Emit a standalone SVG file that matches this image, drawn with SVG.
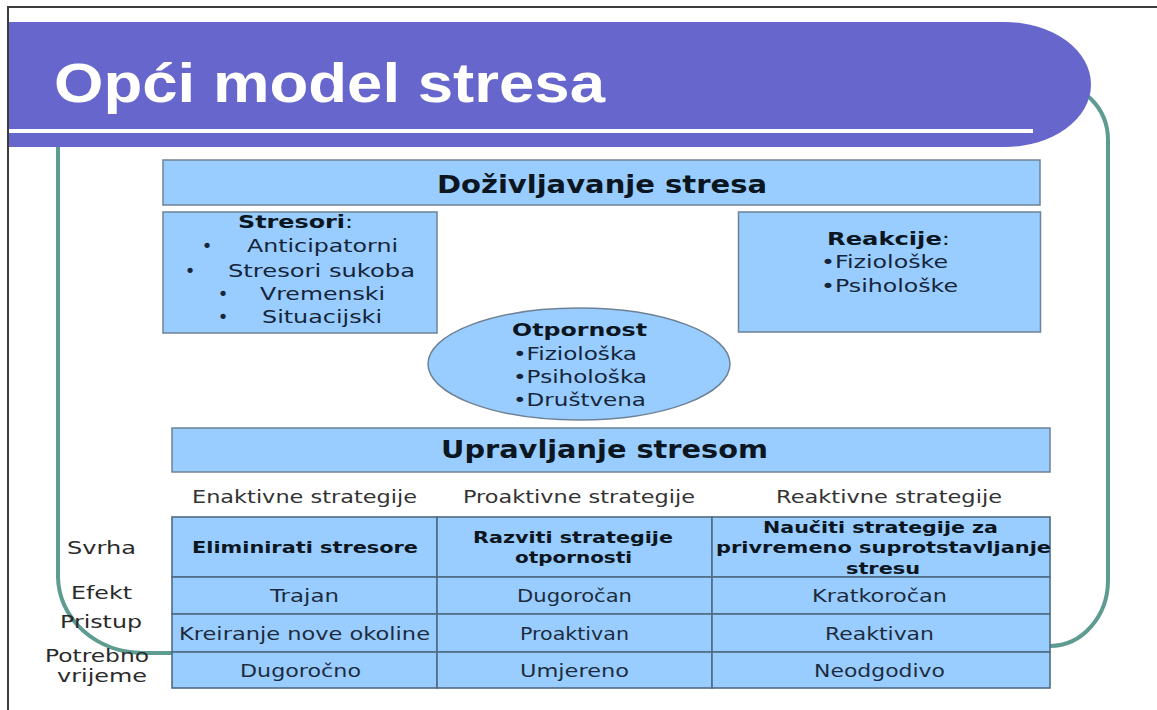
<svg xmlns="http://www.w3.org/2000/svg" width="1157" height="710" viewBox="0 0 1157 710">
<style>
.box{fill:#99CCFF;stroke:#6E8295;stroke-width:1.5}
.cell{fill:#99CCFF;stroke:#4F6B85;stroke-width:1.6}
.hd{font-family:"DejaVu Sans",Verdana,sans-serif;font-weight:bold;font-size:24px;fill:#0b1620}
.b{font-family:"DejaVu Sans",Verdana,sans-serif;font-weight:bold;font-size:18px;fill:#0b1620}
.t{font-family:"DejaVu Sans",Verdana,sans-serif;font-size:18px;fill:#15253a}
.s{font-family:"DejaVu Sans",Verdana,sans-serif;font-size:17px;fill:#333}
.tb{font-family:"DejaVu Sans",Verdana,sans-serif;font-weight:bold;font-size:16px;fill:#0b1620}
.tc{font-family:"DejaVu Sans",Verdana,sans-serif;font-size:17px;fill:#1c2c3e}
.lb{font-family:"DejaVu Sans",Verdana,sans-serif;font-size:17px;fill:#2a2a2a}
.n{font-weight:normal}
</style>
<rect x="0" y="0" width="1157" height="710" fill="#ffffff"/>
<g id="slide-frame" fill="none" stroke="#3c3c3c" stroke-width="2">
<path d="M8,710 V7 H1157"/>
</g>
<g id="frame-line" fill="none" stroke="#5E9C92" stroke-width="4">
<path d="M58,100 V577 A85 77 0 0 0 143,653 H172"/>
<path d="M1050,646 A58 66 0 0 0 1108,580 V140 A58 58 0 0 0 1050,82"/>
</g>
<g id="title-bar">
<path d="M9,22 H1005 A86 62.5 0 0 1 1005,147 H9 Z" fill="#6666CC"/>
<rect x="9" y="129" width="1024" height="4" fill="#ffffff"/>
<text x="54" y="102" font-family="'Liberation Sans',Arial,sans-serif" font-weight="bold" font-size="55" fill="#ffffff" textLength="551" lengthAdjust="spacingAndGlyphs">Opći model stresa</text>
</g>
<g id="dozivljavanje">
<rect class="box" x="163" y="160" width="877" height="45"/>
<text class="hd" x="437" y="193" textLength="330" lengthAdjust="spacingAndGlyphs">Doživljavanje stresa</text>
</g>
<g id="stresori">
<rect class="box" x="163" y="212" width="274" height="121"/>
<text class="b" x="238" y="228" textLength="115" lengthAdjust="spacingAndGlyphs">Stresori<tspan class="n">:</tspan></text>
<text class="t" x="207" y="252" text-anchor="middle">•</text>
<text class="t" x="247" y="252" textLength="151" lengthAdjust="spacingAndGlyphs">Anticipatorni</text>
<text class="t" x="190" y="277" text-anchor="middle">•</text>
<text class="t" x="228" y="277" textLength="187" lengthAdjust="spacingAndGlyphs">Stresori sukoba</text>
<text class="t" x="223" y="300" text-anchor="middle">•</text>
<text class="t" x="260" y="300" textLength="125" lengthAdjust="spacingAndGlyphs">Vremenski</text>
<text class="t" x="223" y="323" text-anchor="middle">•</text>
<text class="t" x="262" y="323" textLength="120" lengthAdjust="spacingAndGlyphs">Situacijski</text>
</g>
<g id="reakcije">
<rect class="box" x="738.5" y="212" width="302" height="120"/>
<text class="b" x="827" y="245" textLength="123" lengthAdjust="spacingAndGlyphs">Reakcije<tspan class="n">:</tspan></text>
<text class="t" x="821" y="268" textLength="127" lengthAdjust="spacingAndGlyphs">•Fiziološke</text>
<text class="t" x="821" y="292" textLength="137" lengthAdjust="spacingAndGlyphs">•Psihološke</text>
</g>
<g id="otpornost">
<ellipse class="box" cx="579" cy="364" rx="151" ry="56"/>
<text class="b" x="512" y="336" textLength="135" lengthAdjust="spacingAndGlyphs">Otpornost</text>
<text class="t" x="513" y="360" textLength="124" lengthAdjust="spacingAndGlyphs">•Fiziološka</text>
<text class="t" x="513" y="383" textLength="134" lengthAdjust="spacingAndGlyphs">•Psihološka</text>
<text class="t" x="513" y="406" textLength="133" lengthAdjust="spacingAndGlyphs">•Društvena</text>
</g>
<g id="upravljanje">
<rect class="box" x="172" y="428" width="878" height="44"/>
<text class="hd" x="441" y="458" textLength="327" lengthAdjust="spacingAndGlyphs">Upravljanje stresom</text>
</g>
<g id="strategije">
<text class="s" x="192" y="503" textLength="225" lengthAdjust="spacingAndGlyphs">Enaktivne strategije</text>
<text class="s" x="463" y="503" textLength="232" lengthAdjust="spacingAndGlyphs">Proaktivne strategije</text>
<text class="s" x="776" y="503" textLength="226" lengthAdjust="spacingAndGlyphs">Reaktivne strategije</text>
</g>
<g id="row-labels">
<text class="lb" x="67" y="554" textLength="69" lengthAdjust="spacingAndGlyphs">Svrha</text>
<text class="lb" x="71" y="599" textLength="61" lengthAdjust="spacingAndGlyphs">Efekt</text>
<text class="lb" x="60" y="628" textLength="82" lengthAdjust="spacingAndGlyphs">Pristup</text>
<text class="lb" x="45" y="662" textLength="104" lengthAdjust="spacingAndGlyphs">Potrebno</text>
<text class="lb" x="57" y="682" textLength="90" lengthAdjust="spacingAndGlyphs">vrijeme</text>
</g>
<g id="tablica">
<rect class="cell" x="172" y="517" width="265" height="60"/>
<rect class="cell" x="437" y="517" width="275" height="60"/>
<rect class="cell" x="712" y="517" width="338" height="60"/>
<rect class="cell" x="172" y="577" width="265" height="37"/>
<rect class="cell" x="437" y="577" width="275" height="37"/>
<rect class="cell" x="712" y="577" width="338" height="37"/>
<rect class="cell" x="172" y="614" width="265" height="38"/>
<rect class="cell" x="437" y="614" width="275" height="38"/>
<rect class="cell" x="712" y="614" width="338" height="38"/>
<rect class="cell" x="172" y="652" width="265" height="36"/>
<rect class="cell" x="437" y="652" width="275" height="36"/>
<rect class="cell" x="712" y="652" width="338" height="36"/>
<text class="tb" x="192" y="553" textLength="226" lengthAdjust="spacingAndGlyphs">Eliminirati stresore</text>
<text class="tb" x="473" y="543" textLength="200" lengthAdjust="spacingAndGlyphs">Razviti strategije</text>
<text class="tb" x="515" y="563" textLength="117" lengthAdjust="spacingAndGlyphs">otpornosti</text>
<text class="tb" x="763" y="533" textLength="235" lengthAdjust="spacingAndGlyphs">Naučiti strategije za</text>
<text class="tb" x="716" y="553" textLength="335" lengthAdjust="spacingAndGlyphs">privremeno suprotstavljanje</text>
<text class="tb" x="846" y="574" textLength="74" lengthAdjust="spacingAndGlyphs">stresu</text>
<text class="tc" x="270" y="602" textLength="69" lengthAdjust="spacingAndGlyphs">Trajan</text>
<text class="tc" x="517" y="602" textLength="115" lengthAdjust="spacingAndGlyphs">Dugoročan</text>
<text class="tc" x="812" y="602" textLength="135" lengthAdjust="spacingAndGlyphs">Kratkoročan</text>
<text class="tc" x="179" y="640" textLength="251" lengthAdjust="spacingAndGlyphs">Kreiranje nove okoline</text>
<text class="tc" x="520" y="640" textLength="109" lengthAdjust="spacingAndGlyphs">Proaktivan</text>
<text class="tc" x="825" y="640" textLength="109" lengthAdjust="spacingAndGlyphs">Reaktivan</text>
<text class="tc" x="240" y="677" textLength="121" lengthAdjust="spacingAndGlyphs">Dugoročno</text>
<text class="tc" x="520" y="677" textLength="109" lengthAdjust="spacingAndGlyphs">Umjereno</text>
<text class="tc" x="814" y="677" textLength="131" lengthAdjust="spacingAndGlyphs">Neodgodivo</text>
</g>
</svg>
